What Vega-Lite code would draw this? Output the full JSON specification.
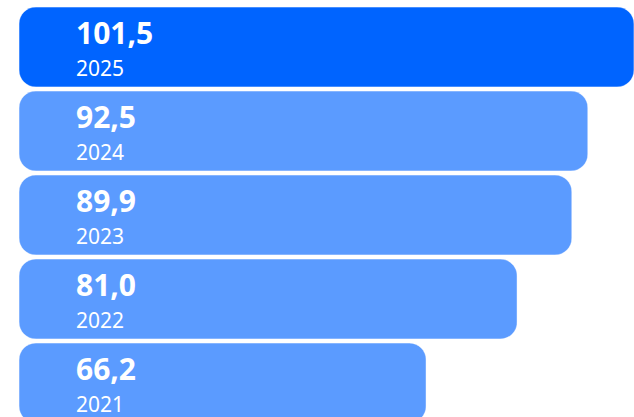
{
  "$schema": "https://vega.github.io/schema/vega-lite/v6.json",
  "autosize": {"type": "none"},
  "padding": {"left": 19, "top": 7, "right": 0, "bottom": 0},
  "width": 615,
  "height": 416,
  "background": "white",
  "config": {
    "view": {"stroke": null},
    "locale": {"number": {"decimal": ",", "thousands": ".", "grouping": [3], "currency": ["", " €"]}}
  },
  "data": {"values": [
    {"year": "2025", "value": 101.5, "current": true},
    {"year": "2024", "value": 92.5, "current": false},
    {"year": "2023", "value": 89.9, "current": false},
    {"year": "2022", "value": 81.0, "current": false},
    {"year": "2021", "value": 66.2, "current": false}
  ]},
  "encoding": {
    "y": {"field": "year", "type": "nominal", "sort": "descending", "axis": null,
      "scale": {"paddingInner": 0.0476, "paddingOuter": 0}}
  },
  "layer": [
    {
      "mark": {"type": "bar", "cornerRadius": 17, "stroke": "white", "strokeOpacity": 0.3, "strokeWidth": 1},
      "encoding": {
        "x": {"field": "value", "type": "quantitative", "axis": null, "scale": {"domain": [0, 100], "clamp": true, "nice": false}},
        "color": {"field": "current", "type": "nominal", "legend": null,
          "scale": {"domain": [true, false], "range": ["#0064FF", "#5B9BFF"]}}
      }
    },
    {
      "mark": {"type": "text", "align": "left", "baseline": "alphabetic", "dx": 57, "dy": -3, "font": "Noto Sans", "fontWeight": "bold", "fontSize": 30, "color": "white"},
      "encoding": {
        "x": {"datum": 0, "type": "quantitative"},
        "text": {"field": "value", "type": "quantitative", "format": ".1f"}
      }
    },
    {
      "mark": {"type": "text", "align": "left", "baseline": "alphabetic", "dx": 57, "dy": 29, "font": "Noto Sans", "fontSize": 21, "color": "white"},
      "encoding": {
        "x": {"datum": 0, "type": "quantitative"},
        "text": {"field": "year", "type": "nominal"}
      }
    }
  ]
}
